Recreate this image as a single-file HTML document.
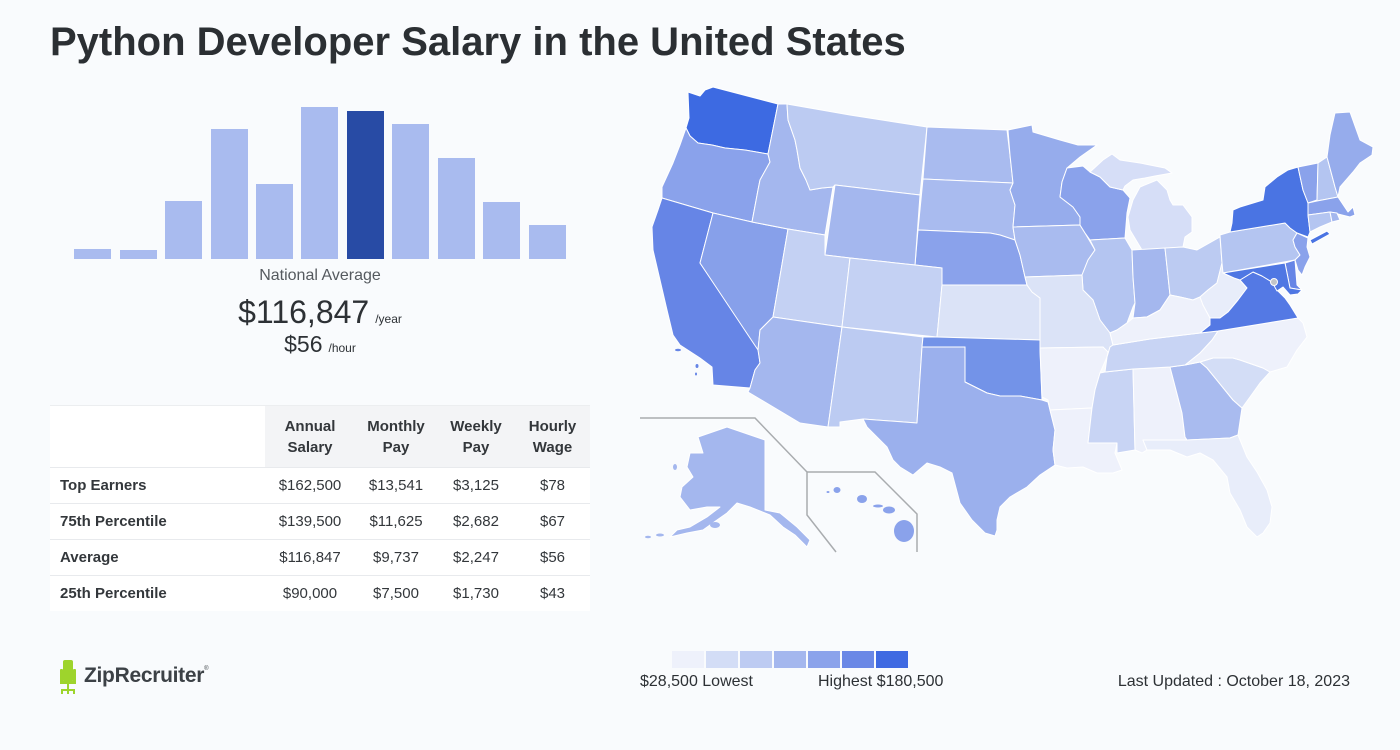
<!DOCTYPE html>
<html>
<head>
<meta charset="utf-8">
<style>
  html,body{margin:0;padding:0;}
  body{width:1400px;height:750px;background:#f9fbfd;position:relative;overflow:hidden;font-family:"Liberation Sans",Arial,sans-serif;color:#2d3135;}
  .title{position:absolute;left:50px;top:20px;font-size:40px;font-weight:bold;color:#2b2f33;white-space:nowrap;letter-spacing:0px;}
  .bar{position:absolute;width:37px;background:#a9bbef;bottom:491px;}
  .natavg{position:absolute;left:120px;width:400px;text-align:center;top:267px;font-size:16px;color:#555a5f;}
  .yr{position:absolute;left:120px;width:400px;text-align:center;top:294px;font-size:32px;color:#2d3135;white-space:nowrap;}
  .yr small,.hr small{font-size:12px;color:#2d3135;margin-left:6px;}
  .hr{position:absolute;left:120px;width:400px;text-align:center;top:331px;font-size:23px;color:#2d3135;white-space:nowrap;}
  table{position:absolute;left:50px;top:405px;width:540px;border-collapse:collapse;background:#fff;font-size:15px;}
  th{font-weight:bold;color:#33373b;height:61px;line-height:21px;background:#f3f4f6;text-align:center;padding:0;border-top:1px solid #eceef0;}
  th.blank{background:#fff;}
  td{height:35px;border-top:1px solid #e8eaed;text-align:center;color:#33373b;padding:0;}
  td.lab{text-align:left;padding-left:10px;font-weight:bold;}
  .logo{position:absolute;left:84px;top:664px;font-size:21px;font-weight:bold;color:#3c4146;letter-spacing:-0.3px;}
  .logo sup{font-size:6px;font-weight:normal;vertical-align:top;position:relative;top:2px;}
  .leg{position:absolute;top:651px;height:17px;width:32px;}
  .lt{position:absolute;top:673px;font-size:16px;color:#2d3135;white-space:nowrap;}
</style>
</head>
<body>
<div class="title">Python Developer Salary in the United States</div>

<div class="bar" style="left:74px;height:10px;"></div>
<div class="bar" style="left:120px;height:9px;"></div>
<div class="bar" style="left:165px;height:58px;"></div>
<div class="bar" style="left:211px;height:130px;"></div>
<div class="bar" style="left:256px;height:75px;"></div>
<div class="bar" style="left:301px;height:152px;"></div>
<div class="bar" style="left:347px;height:148px;background:#284ba5;"></div>
<div class="bar" style="left:392px;height:135px;"></div>
<div class="bar" style="left:438px;height:101px;"></div>
<div class="bar" style="left:483px;height:57px;"></div>
<div class="bar" style="left:529px;height:34px;"></div>

<div class="natavg">National Average</div>
<div class="yr">$116,847<small>/year</small></div>
<div class="hr">$56<small>/hour</small></div>

<table>
  <tr><th class="blank" style="width:215px;"></th><th style="width:90px;">Annual<br>Salary</th><th style="width:82px;">Monthly<br>Pay</th><th style="width:78px;">Weekly<br>Pay</th><th>Hourly<br>Wage</th></tr>
  <tr><td class="lab">Top Earners</td><td>$162,500</td><td>$13,541</td><td>$3,125</td><td>$78</td></tr>
  <tr><td class="lab">75th Percentile</td><td>$139,500</td><td>$11,625</td><td>$2,682</td><td>$67</td></tr>
  <tr><td class="lab">Average</td><td>$116,847</td><td>$9,737</td><td>$2,247</td><td>$56</td></tr>
  <tr><td class="lab">25th Percentile</td><td>$90,000</td><td>$7,500</td><td>$1,730</td><td>$43</td></tr>
</table>

<svg style="position:absolute;left:58px;top:660px;" width="22" height="36" viewBox="0 0 22 36">
  <rect x="5" y="0" width="10" height="22" rx="2" fill="#9ed42c"/>
  <rect x="2" y="9" width="3" height="13" rx="1" fill="#9ed42c"/>
  <rect x="15" y="9" width="3" height="13" rx="1" fill="#9ed42c"/>
  <rect x="2" y="21" width="16" height="3" fill="#9ed42c"/>
  <rect x="9" y="24" width="2" height="6" fill="#9ed42c"/>
  <rect x="3" y="29" width="14" height="2" fill="#9ed42c"/>
  <rect x="3" y="29" width="2" height="5" fill="#9ed42c"/>
  <rect x="15" y="29" width="2" height="5" fill="#9ed42c"/>
  <rect x="9" y="29" width="2" height="5" fill="#9ed42c"/>
</svg>
<div class="logo">ZipRecruiter<sup>®</sup></div>

<div class="leg" style="left:672px;background:#eef1fb;"></div>
<div class="leg" style="left:706px;background:#d3ddf6;"></div>
<div class="leg" style="left:740px;background:#bdcbf2;"></div>
<div class="leg" style="left:774px;background:#a4b7ee;"></div>
<div class="leg" style="left:808px;background:#8ba3eb;"></div>
<div class="leg" style="left:842px;background:#6a88e6;"></div>
<div class="leg" style="left:876px;background:#3f6ae2;"></div>
<div class="lt" style="left:640px;">$28,500 Lowest</div>
<div class="lt" style="left:818px;">Highest $180,500</div>
<div class="lt" style="right:50px;">Last Updated : October 18, 2023</div>

<svg style="position:absolute;left:0;top:0;" width="1400" height="750" viewBox="0 0 1400 750">
<g stroke="#ffffff" stroke-width="1" stroke-linejoin="round">
  <!-- West -->
  <path fill="#3d6ae2" d="M688,92 L700,96 L705,90 L713,87 L778,104 L768,154 L745,150 L725,148 L712,145 L698,143 L690,136 L686,128 L689,118 Z"/>
  <path fill="#8aa2eb" d="M686,128 L690,136 L698,143 L712,145 L725,148 L745,150 L768,154 L770,162 L760,180 L758,190 L752,222 L713,213 L662,198 L662,187 L673,163 L680,145 Z"/>
  <path fill="#6685e6" d="M662,198 L713,213 L700,263 L758,348 L760,363 L755,370 L750,388 L713,385 L712,367 L700,358 L680,345 L673,335 L667,310 L660,280 L653,250 L652,227 L658,210 Z"/>
  <path fill="#87a0ea" d="M713,213 L752,222 L788,229 L773,317 L760,330 L758,350 L700,263 Z"/>
  <path fill="#a4b7ee" d="M778,104 L787,104 L788,120 L795,140 L797,150 L800,168 L806,180 L810,190 L822,188 L833,187 L825,235 L788,229 L752,222 L758,190 L760,180 L770,162 L768,154 Z"/>
  <path fill="#bccbf2" d="M787,104 L850,115 L927,127 L920,195 L835,185 L833,187 L822,188 L810,190 L806,180 L800,168 L797,150 L795,140 L788,120 Z"/>
  <path fill="#a9bbef" d="M927,127 L1007,130 L1010,155 L1013,183 L923,179 Z"/>
  <path fill="#a9bbef" d="M923,179 L1013,183 L1010,190 L1015,205 L1013,227 L1015,240 L1000,235 L990,233 L918,230 Z"/>
  <path fill="#8aa2eb" d="M918,230 L990,233 L1000,235 L1015,240 L1020,255 L1025,277 L1027,285 L942,285 L942,268 L915,265 Z"/>
  <path fill="#a4b7ee" d="M835,185 L920,195 L915,265 L850,258 L825,255 Z"/>
  <path fill="#c4d1f3" d="M788,229 L825,235 L825,255 L850,258 L842,327 L773,317 Z"/>
  <path fill="#c4d1f3" d="M850,258 L915,265 L942,268 L942,285 L937,337 L842,327 Z"/>
  <path fill="#dbe3f7" d="M942,285 L1027,285 L1032,292 L1040,298 L1040,340 L937,337 Z"/>
  <path fill="#a4b7ee" d="M773,317 L842,327 L828,427 L800,423 L748,392 L750,388 L755,370 L760,363 L758,350 L760,330 Z"/>
  <path fill="#bccbf2" d="M842,327 L923,337 L922,347 L917,423 L863,419 L840,422 L840,427 L828,427 Z"/>
  <path fill="#7393e8" d="M923,337 L937,337 L1040,340 L1040,350 L1042,400 L1020,396 L1000,396 L987,393 L965,382 L965,347 L922,347 Z"/>
  <path fill="#9bb0ed" d="M922,347 L965,347 L965,382 L987,393 L1000,396 L1020,396 L1042,400 L1048,402 L1050,410 L1055,430 L1053,450 L1055,465 L1040,475 L1027,487 L1010,497 L1000,507 L997,520 L997,530 L995,536 L985,533 L972,520 L960,503 L952,473 L940,467 L927,463 L913,475 L900,467 L893,460 L887,447 L875,435 L867,427 L863,419 L917,423 Z"/>
  <!-- Midwest -->
  <path fill="#96acec" d="M1008,130 L1032,125 L1033,132 L1060,140 L1078,145 L1097,145 L1080,157 L1067,168 L1062,182 L1060,197 L1073,207 L1080,217 L1080,225 L1013,227 L1015,205 L1010,190 L1013,183 L1010,155 Z"/>
  <path fill="#a9bbef" d="M1013,227 L1080,225 L1085,233 L1095,250 L1088,260 L1082,275 L1025,277 L1020,255 L1015,240 Z"/>
  <path fill="#8aa2eb" d="M1062,182 L1067,168 L1083,166 L1090,172 L1100,177 L1110,187 L1123,190 L1130,198 L1127,213 L1125,238 L1090,240 L1085,233 L1080,225 L1080,217 L1073,207 L1060,197 Z"/>
  <path fill="#d6def7" d="M1090,172 L1103,160 L1112,154 L1120,160 L1140,163 L1165,168 L1172,173 L1155,176 L1145,178 L1133,180 L1125,186 L1123,190 L1110,187 L1100,177 Z"/>
  <path fill="#d6def7" d="M1140,187 L1157,180 L1167,190 L1170,200 L1173,205 L1183,205 L1192,217 L1192,232 L1185,237 L1183,247 L1142,250 L1130,230 L1128,217 L1133,200 Z"/>
  <path fill="#b4c5f1" d="M1090,240 L1125,238 L1132,250 L1133,277 L1135,303 L1133,307 L1127,323 L1117,330 L1110,333 L1100,320 L1093,300 L1083,290 L1082,275 L1088,260 L1095,250 Z"/>
  <path fill="#a4b7ee" d="M1132,250 L1165,248 L1170,295 L1160,310 L1147,317 L1133,318 L1135,303 L1133,277 Z"/>
  <path fill="#bccbf2" d="M1165,248 L1183,247 L1197,250 L1220,237 L1222,263 L1217,283 L1208,290 L1200,297 L1193,300 L1180,297 L1170,295 Z"/>
  <path fill="#dbe3f7" d="M1025,277 L1082,275 L1083,290 L1093,300 L1100,320 L1110,333 L1113,345 L1110,347 L1107,357 L1103,347 L1040,348 L1040,298 L1032,292 L1027,285 Z"/>
  <!-- South -->
  <path fill="#eef1fb" d="M1040,348 L1103,347 L1108,352 L1107,357 L1100,373 L1095,390 L1092,408 L1050,410 L1048,400 L1042,397 Z"/>
  <path fill="#eef1fb" d="M1050,410 L1092,408 L1088,443 L1117,443 L1115,453 L1122,470 L1113,473 L1097,473 L1083,467 L1067,468 L1055,465 L1053,450 L1055,430 Z"/>
  <path fill="#c8d4f4" d="M1105,372 L1133,369 L1135,450 L1117,453 L1117,443 L1088,443 L1092,408 L1095,390 L1100,373 Z"/>
  <path fill="#eef1fb" d="M1133,369 L1170,367 L1182,413 L1185,437 L1187,440 L1143,440 L1147,450 L1142,453 L1135,450 Z"/>
  <path fill="#a9bbef" d="M1170,367 L1185,365 L1200,362 L1207,368 L1233,400 L1242,408 L1238,435 L1230,438 L1187,440 L1185,437 L1182,413 Z"/>
  <path fill="#e8edfa" d="M1143,440 L1187,440 L1230,438 L1238,435 L1247,457 L1257,472 L1267,490 L1272,507 L1270,523 L1263,533 L1257,537 L1247,527 L1240,510 L1230,493 L1227,477 L1213,460 L1200,453 L1187,457 L1170,450 L1157,450 L1147,450 Z"/>
  <path fill="#d3ddf6" d="M1200,362 L1213,358 L1233,358 L1240,360 L1263,368 L1270,372 L1260,383 L1250,397 L1242,408 L1233,400 L1207,368 Z"/>
  <path fill="#eef1fb" d="M1218,331 L1298,318 L1303,323 L1307,337 L1297,350 L1287,367 L1270,372 L1263,368 L1240,360 L1233,358 L1213,358 L1200,362 L1185,365 L1200,353 L1212,340 Z"/>
  <path fill="#c8d4f4" d="M1113,345 L1150,339 L1200,333 L1218,331 L1212,340 L1200,353 L1185,365 L1170,367 L1133,369 L1105,372 L1107,357 L1110,347 Z"/>
  <path fill="#eef1fb" d="M1110,333 L1117,330 L1127,323 L1133,318 L1147,317 L1160,310 L1170,295 L1180,297 L1193,300 L1200,297 L1203,305 L1210,318 L1210,325 L1200,333 L1150,339 L1113,345 Z"/>
  <path fill="#e8edfa" d="M1222,263 L1227,275 L1234,278 L1240,280 L1247,288 L1238,300 L1228,312 L1220,318 L1210,318 L1203,305 L1200,297 L1208,290 L1217,283 Z"/>
  <path fill="#5479e4" d="M1240,280 L1253,272 L1262,276 L1272,282 L1277,290 L1285,298 L1290,305 L1298,318 L1218,331 L1200,333 L1210,325 L1210,318 L1220,318 L1228,312 L1238,300 L1247,288 Z"/>
  <!-- Northeast -->
  <path fill="#b4c5f1" d="M1220,235 L1230,232 L1285,223 L1290,228 L1297,233 L1293,240 L1295,247 L1300,255 L1295,260 L1223,273 L1222,263 Z"/>
  <path fill="#4a74e3" d="M1230,232 L1232,223 L1233,210 L1240,207 L1263,200 L1265,187 L1277,177 L1288,170 L1298,167 L1303,190 L1308,203 L1308,215 L1310,232 L1308,237 L1297,233 L1290,228 L1285,223 Z"/>
  <path fill="#4a74e3" d="M1310,240 L1327,231 L1330,234 L1312,244 Z"/>
  <path fill="#8aa2eb" d="M1298,167 L1318,163 L1317,200 L1308,203 L1303,190 Z"/>
  <path fill="#b4c5f1" d="M1318,163 L1327,157 L1335,187 L1338,197 L1317,201 Z"/>
  <path fill="#96acec" d="M1327,157 L1330,135 L1335,113 L1350,112 L1360,140 L1373,147 L1372,155 L1360,163 L1353,172 L1340,187 L1338,197 L1335,187 Z"/>
  <path fill="#8aa2eb" d="M1308,203 L1317,201 L1338,197 L1342,203 L1348,212 L1353,207 L1355,215 L1350,217 L1342,215 L1330,212 L1308,215 Z"/>
  <path fill="#b4c5f1" d="M1308,215 L1330,212 L1332,222 L1320,227 L1310,232 Z"/>
  <path fill="#a4b7ee" d="M1330,212 L1337,213 L1340,220 L1332,222 Z"/>
  <path fill="#8aa2eb" d="M1297,233 L1308,238 L1307,247 L1310,257 L1305,267 L1302,275 L1298,270 L1295,260 L1300,255 L1295,247 L1293,240 Z"/>
  <path fill="#6685e6" d="M1285,263 L1295,260 L1297,285 L1302,290 L1290,288 Z"/>
  <path fill="#4f77e3" d="M1223,273 L1285,263 L1290,288 L1302,290 L1298,294 L1290,295 L1283,287 L1277,291 L1272,282 L1262,276 L1253,272 L1240,280 L1234,278 Z"/>
  <!-- Alaska -->
  <path fill="#a4b7ee" d="M698,437 L727,427 L765,440 L765,510 L780,513 L797,527 L810,540 L807,547 L795,535 L783,527 L770,515 L750,507 L737,503 L727,513 L717,520 L703,530 L687,533 L670,537 L677,530 L690,527 L707,517 L720,507 L707,507 L690,510 L680,497 L682,487 L693,477 L687,467 L690,453 L703,453 Z"/>
</g>
<g fill="#a4b7ee">
  <ellipse cx="660" cy="535" rx="4" ry="1.5"/>
  <ellipse cx="648" cy="537" rx="3" ry="1.2"/>
  <ellipse cx="675" cy="467" rx="2" ry="3"/>
  <ellipse cx="715" cy="525" rx="5" ry="3"/>
</g>
<g fill="#6685e6">
  <ellipse cx="678" cy="350" rx="3" ry="1.2"/>
  <ellipse cx="697" cy="366" rx="1.5" ry="2"/>
  <ellipse cx="696" cy="374" rx="1" ry="1.5"/>
</g>
<!-- Hawaii -->
<g fill="#8aa2eb">
  <ellipse cx="837" cy="490" rx="3.5" ry="3"/>
  <ellipse cx="828" cy="492" rx="1.5" ry="1"/>
  <ellipse cx="862" cy="499" rx="5" ry="4"/>
  <ellipse cx="878" cy="506" rx="5" ry="1.5"/>
  <ellipse cx="889" cy="510" rx="6" ry="3.5"/>
  <ellipse cx="904" cy="531" rx="10" ry="11"/>
</g>
<circle cx="1274" cy="282" r="3.5" fill="#c2c5c8" stroke="#fff" stroke-width="1"/>
<g fill="none" stroke="#a9acaf" stroke-width="1.5">
  <polyline points="640,418 755,418 807,472 807,515 836,552"/>
  <polyline points="807,472 875,472 917,514 917,552"/>
</g>
</svg>
</body>
</html>
